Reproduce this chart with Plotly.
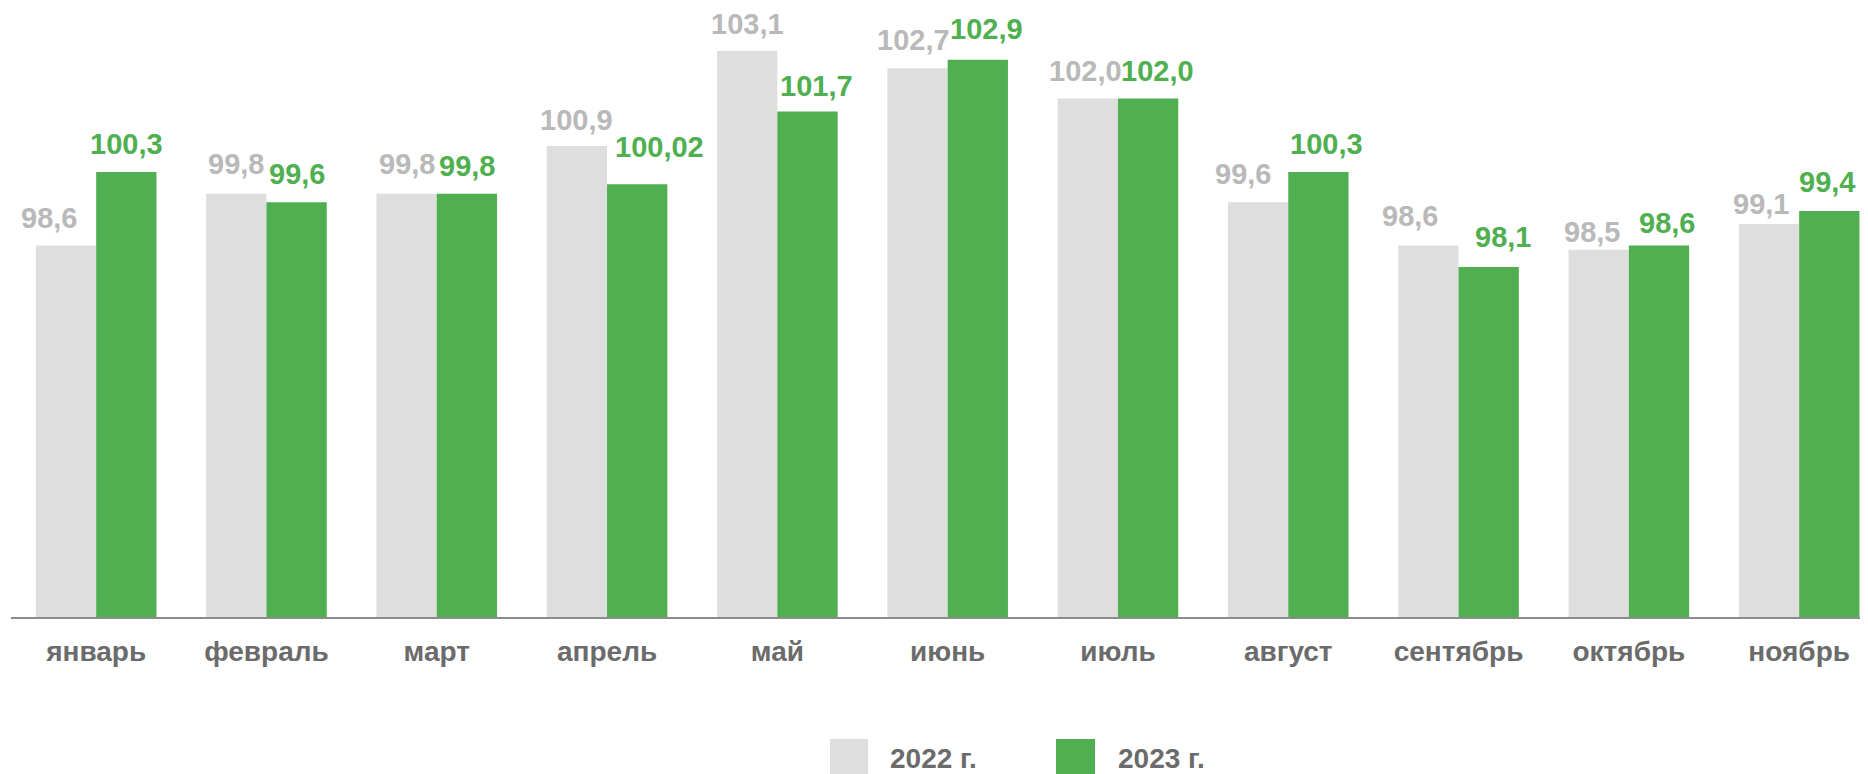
import plotly.graph_objects as go

months = ["январь", "февраль", "март", "апрель", "май", "июнь",
          "июль", "август", "сентябрь", "октябрь", "ноябрь"]
values_2022 = [98.6, 99.8, 99.8, 100.9, 103.1, 102.7, 102.0, 99.6, 98.6, 98.5, 99.1]
values_2023 = [100.3, 99.6, 99.8, 100.02, 101.7, 102.9, 102.0, 100.3, 98.1, 98.6, 99.4]
labels_2022 = ["98,6", "99,8", "99,8", "100,9", "103,1", "102,7", "102,0", "99,6", "98,6", "98,5", "99,1"]
labels_2023 = ["100,3", "99,6", "99,8", "100,02", "101,7", "102,9", "102,0", "100,3", "98,1", "98,6", "99,4"]
series_names = ["2022 г.", "2023 г."]

# label placement tweaks (pixels), mimicking the manual placement in the original
dx_2022 = [-17, 0, 0, 0, 0, -4, -2, -15, -18, -7, -8]
gap_2022 = [17, 20, 20, 16, 17, 18, 18, 18, 19, 8, 10]
dx_2023 = [0, 0, 0, 22, 9, 9, 9, 8, 14, 8, -2]
gap_2023 = [18, 18, 18, 27, 16, 21, 18, 18, 20, 12, 19]

GRAY = "#DEDEDE"
GREEN = "#50AF50"
GRAY_TXT = "#B9B9B9"
DARK_TXT = "#6B6B6B"
FONT = "Arial, 'Liberation Sans', sans-serif"

# page body has an 8px margin: figure is laid out in its own coordinates
W, H = 1860, 766
ML, MR, MT, MB = 3, 0, 0, 157
plot_w = W - ML - MR
plot_h = H - MT - MB
cat_px = 170.3
bar_px = 60.3
px_per_unit = 43.2

fig = go.Figure()
fig.add_trace(go.Bar(x=months, y=values_2022, name=series_names[0],
                     marker=dict(color=GRAY, line=dict(width=0)), showlegend=False))
fig.add_trace(go.Bar(x=months, y=values_2023, name=series_names[1],
                     marker=dict(color=GREEN, line=dict(width=0)), showlegend=False))

half = bar_px / 2
for i, m in enumerate(months):
    fig.add_annotation(x=m, y=values_2022[i], text="<b>%s</b>" % labels_2022[i],
                       xref="x", yref="y", showarrow=False, yanchor="bottom",
                       xshift=-half + dx_2022[i], yshift=gap_2022[i] - 8,
                       font=dict(family=FONT, size=29, color=GRAY_TXT))
    fig.add_annotation(x=m, y=values_2023[i], text="<b>%s</b>" % labels_2023[i],
                       xref="x", yref="y", showarrow=False, yanchor="bottom",
                       xshift=half + dx_2023[i], yshift=gap_2023[i] - 8,
                       font=dict(family=FONT, size=29, color=GREEN))

# custom legend (large square swatches as in the original)
def px_to_paper_x(px):
    return (px - ML) / plot_w

def px_to_paper_y(py):
    return (H - MB - py) / plot_h

legend_items = [(822, 860, 880, GRAY, series_names[0]), (1048, 1087, 1108, GREEN, series_names[1])]
for x0, x1, tx, col, name in legend_items:
    fig.add_shape(type="rect", xref="paper", yref="paper",
                  x0=px_to_paper_x(x0), x1=px_to_paper_x(x1),
                  y0=px_to_paper_y(780), y1=px_to_paper_y(731),
                  fillcolor=col, line=dict(width=0), layer="above")
    fig.add_annotation(x=px_to_paper_x(tx), y=px_to_paper_y(750.5), xref="paper", yref="paper",
                       text="<b>%s</b>" % name, showarrow=False, xanchor="left", yanchor="middle",
                       font=dict(family=FONT, size=28, color=DARK_TXT))

n_vis = plot_w / cat_px
fig.update_layout(
    width=W, height=H,
    margin=dict(l=ML, r=MR, t=MT, b=MB, pad=0),
    paper_bgcolor="white", plot_bgcolor="white",
    barmode="group", bargap=1 - 2 * bar_px / cat_px, bargroupgap=0,
    font=dict(family=FONT, size=28, color=DARK_TXT),
    showlegend=False,
    xaxis=dict(range=[-0.5, -0.5 + n_vis], showgrid=False, zeroline=False,
               showline=True, linecolor="#8C8C8C", linewidth=2,
               ticks="", ticklabelstandoff=8, automargin=False,
               tickfont=dict(family=FONT, size=28, color=DARK_TXT, weight="bold")),
    yaxis=dict(range=[90, 90 + plot_h / px_per_unit], visible=False,
               showgrid=False, zeroline=False, automargin=False),
)

fig.write_html("out.html")
